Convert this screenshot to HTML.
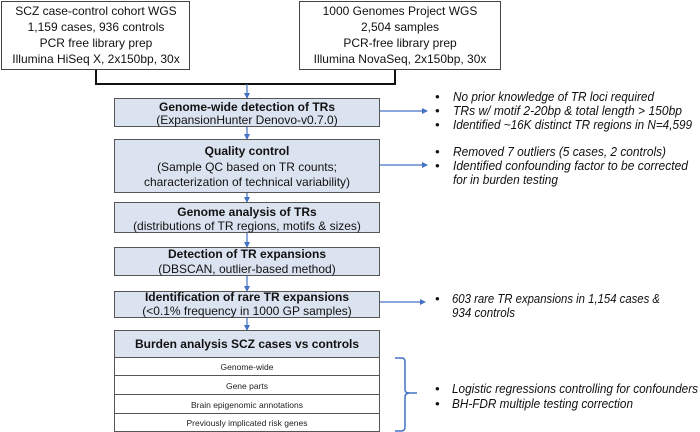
<!DOCTYPE html>
<html><head><meta charset="utf-8"><style>
html,body{margin:0;padding:0;background:#fff;width:700px;height:432px;overflow:hidden}
svg text{font-family:"Liberation Sans",sans-serif;}
</style></head><body>
<svg width="700" height="432" viewBox="0 0 700 432" xmlns="http://www.w3.org/2000/svg">
<defs><marker id="a" markerWidth="6" markerHeight="6" refX="5" refY="3" orient="auto" markerUnits="userSpaceOnUse"><path d="M0,0 L6,3 L0,6 z" fill="#4472c4"/></marker></defs>
<g fill="#fff" stroke="#444" stroke-width="1">
<rect x="1.5" y="1.5" width="188" height="68"/>
<rect x="299.5" y="1.5" width="201" height="68"/>
</g>
<g font-size="12" fill="#111" text-anchor="middle">
<text x="96" y="15">SCZ case-control cohort WGS</text>
<text x="96" y="31">1,159 cases, 936 controls</text>
<text x="96" y="47">PCR free library prep</text>
<text x="96" y="63">Illumina HiSeq X, 2x150bp, 30x</text>
<text x="400" y="15">1000 Genomes Project WGS</text>
<text x="400" y="31">2,504 samples</text>
<text x="400" y="47">PCR-free library prep</text>
<text x="400" y="63">Illumina NovaSeq, 2x150bp, 30x</text>
</g>
<path d="M96,70 V84 H395 V70" fill="none" stroke="#111" stroke-width="2"/>
<g stroke="#4472c4" stroke-width="1.2" fill="none">
<line x1="247" y1="84" x2="247" y2="98" marker-end="url(#a)"/>
<line x1="247" y1="126" x2="247" y2="139" marker-end="url(#a)"/>
<line x1="247" y1="192" x2="247" y2="202" marker-end="url(#a)"/>
<line x1="247" y1="232" x2="247" y2="247" marker-end="url(#a)"/>
<line x1="247" y1="275" x2="247" y2="291" marker-end="url(#a)"/>
<line x1="247" y1="317" x2="247" y2="330" marker-end="url(#a)"/>
<line x1="379" y1="111" x2="427" y2="111" marker-end="url(#a)"/>
<line x1="379" y1="165" x2="427" y2="165" marker-end="url(#a)"/>
<line x1="379" y1="302" x2="425" y2="302" marker-end="url(#a)"/>
<path d="M395,358 H402 Q405,358 405,362 V390 Q405,393 410,393 H417 M410,393 Q405,393 405,397 V427 Q405,431 401,431 H395" stroke-width="1.5"/>
</g>
<g fill="#dce3f0" stroke="#555" stroke-width="1">
<rect x="114.5" y="98.5" width="265" height="28"/>
<rect x="114.5" y="139.5" width="265" height="53"/>
<rect x="114.5" y="202.5" width="265" height="30"/>
<rect x="114.5" y="247.5" width="265" height="28"/>
<rect x="114.5" y="291.5" width="265" height="26"/>
<rect x="114.5" y="330.5" width="265" height="27"/>
</g>
<g fill="#fff" stroke="#555" stroke-width="1">
<rect x="114.5" y="357.5" width="265" height="18"/>
<rect x="114.5" y="375.5" width="265" height="19"/>
<rect x="114.5" y="394.5" width="265" height="19"/>
<rect x="114.5" y="413.5" width="265" height="18"/>
</g>
<g font-size="12" fill="#111" text-anchor="middle">
<text x="247" y="111" font-weight="bold">Genome-wide detection of TRs</text>
<text x="247" y="124">(ExpansionHunter Denovo-v0.7.0)</text>
<text x="247" y="155" font-weight="bold">Quality control</text>
<text x="247" y="171">(Sample QC based on TR counts;</text>
<text x="247" y="186">characterization of technical variability)</text>
<text x="247" y="216" font-weight="bold">Genome analysis of TRs</text>
<text x="247" y="230">(distributions of TR regions, motifs &amp; sizes)</text>
<text x="247" y="258" font-weight="bold">Detection of TR expansions</text>
<text x="247" y="273">(DBSCAN, outlier-based method)</text>
<text x="247" y="301" font-weight="bold">Identification of rare TR expansions</text>
<text x="247" y="315">(&lt;0.1% frequency in 1000 GP samples)</text>
<text x="247" y="348" font-weight="bold">Burden analysis SCZ cases vs controls</text>
</g>
<g font-size="8.5" fill="#222" text-anchor="middle">
<text x="247" y="370">Genome-wide</text>
<text x="247" y="389">Gene parts</text>
<text x="247" y="408">Brain epigenomic annotations</text>
<text x="247" y="426">Previously implicated risk genes</text>
</g>
<g font-size="13" fill="#111" font-style="italic" lengthAdjust="spacingAndGlyphs">
<text x="435" y="101">•</text><text x="453" y="101" textLength="201" lengthAdjust="spacingAndGlyphs">No prior knowledge of TR loci required</text>
<text x="435" y="115">•</text><text x="453" y="115" textLength="229" lengthAdjust="spacingAndGlyphs">TRs w/ motif 2-20bp &amp; total length &gt; 150bp</text>
<text x="435" y="129">•</text><text x="453" y="129" textLength="239" lengthAdjust="spacingAndGlyphs">Identified ~16K distinct TR regions in N=4,599</text>
<text x="435" y="156">•</text><text x="453" y="156" textLength="213" lengthAdjust="spacingAndGlyphs">Removed 7 outliers (5 cases, 2 controls)</text>
<text x="435" y="170">•</text><text x="453" y="170" textLength="235" lengthAdjust="spacingAndGlyphs">Identified confounding factor to be corrected</text>
<text x="453" y="184" textLength="105" lengthAdjust="spacingAndGlyphs">for in burden testing</text>
<text x="435" y="303">•</text><text x="452" y="303" textLength="208" lengthAdjust="spacingAndGlyphs">603 rare TR expansions in 1,154 cases &amp;</text>
<text x="452" y="317" textLength="63" lengthAdjust="spacingAndGlyphs">934 controls</text>
<text x="435" y="393">•</text><text x="452" y="393" textLength="246" lengthAdjust="spacingAndGlyphs">Logistic regressions controlling for confounders</text>
<text x="435" y="408">•</text><text x="452" y="408" textLength="181" lengthAdjust="spacingAndGlyphs">BH-FDR multiple testing correction</text>
</g>
</svg>
</body></html>
